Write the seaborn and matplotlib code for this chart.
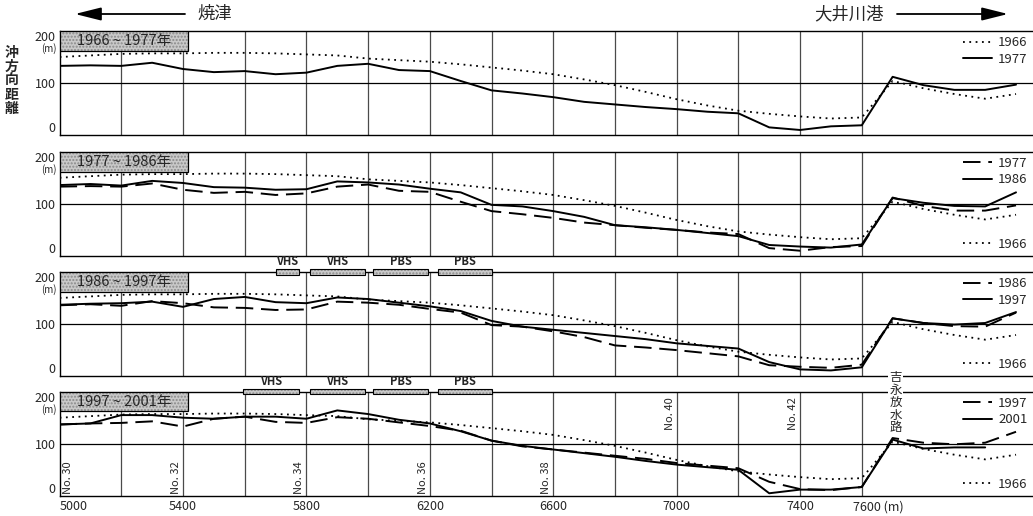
import numpy as np
import pandas as pd
import matplotlib
matplotlib.use('Agg')
import matplotlib.pyplot as plt
import matplotlib.transforms as mtransforms
from matplotlib.patches import Rectangle
import seaborn as sns

# alongshore distance of survey lines (m)
dist = [5000, 5100, 5200, 5300, 5400, 5500, 5600, 5700, 5800, 5900,
        6000, 6100, 6200, 6300, 6400, 6500, 6600, 6700, 6800, 6900,
        7000, 7100, 7200, 7300, 7400, 7500, 7600, 7700, 7800, 7900,
        8000, 8100]

# offshore distance of shoreline (m)
y1966 = [150, 153, 156, 157, 157, 158, 158, 157, 155, 153,
         147, 144, 141, 136, 130, 124, 117, 107, 96, 83,
         69, 57, 47, 41, 36, 32, 34, 104, 90, 79,
         70, 79]
y1977 = [133, 134, 133, 139, 127, 121, 123, 117, 120, 133,
         137, 125, 123, 104, 86, 80, 73, 64, 59, 54,
         50, 45, 42, 15, 10, 17, 19, 112, 96, 87,
         87, 97]
y1986 = [136, 138, 135, 144, 140, 132, 131, 127, 128, 143,
         141, 137, 129, 122, 98, 95, 86, 75, 59, 55,
         50, 44, 38, 21, 18, 16, 22, 111, 102, 96,
         95, 122]
y1997 = [137, 139, 140, 143, 133, 148, 152, 142, 140, 151,
         148, 141, 134, 125, 106, 95, 89, 83, 77, 71,
         63, 58, 53, 27, 13, 11, 17, 111, 102, 99,
         102, 123]
y2001 = [137, 139, 155, 155, 150, 148, 152, 152, 148, 164,
         157, 146, 139, 124, 106, 96, 89, 82, 75, 67,
         60, 55, 50, 5, 12, 12, 17, 108, 91, 93,
         93, np.nan]

panel_titles = ['1966 ~ 1977年', '1977 ~ 1986年', '1986 ~ 1997年', '1997 ~ 2001年']
panel_pairs = [('1966', '1977'), ('1977', '1986'), ('1986', '1997'), ('1997', '2001')]

xtick_pos = [5000, 5200, 5400, 5600, 5800, 6000, 6200, 6400, 6600, 6800,
             7000, 7200, 7400, 7600]
xtick_labels = ['5000', '', '5400', '', '5800', '', '6200', '', '6600', '',
                '7000', '', '7400', '7600 (m)']
ytick_pos = [0, 100, 200]
ytick_labels = ['0', '100', '200']

station_names = ['No. 30', 'No. 32', 'No. 34', 'No. 36', 'No. 38', 'No. 40', 'No. 42']
station_x = [5000, 5400, 5800, 6200, 6600, 7000, 7400]

# coastal structures (VHS / PBS) shown above panels 3 and 4
struct_names = ['VHS', 'VHS', 'PBS', 'PBS']
struct_start_1997 = [5700, 5810, 6015, 6225]
struct_start_2001 = [5595, 5810, 6015, 6225]
struct_end = [5775, 5990, 6195, 6400]

channel_name = '吉永放水路'
channel_x = 7710

df = pd.DataFrame({'dist': dist, '1966': y1966, '1977': y1977,
                   '1986': y1986, '1997': y1997, '2001': y2001})

sns.set_style('white')
plt.rcParams['font.family'] = ['Noto Sans CJK JP', 'DejaVu Sans']

dotted = (0, (1, 2.5))
dashed = (0, (9, 4))

fig = plt.figure(figsize=(10.33, 5.16), dpi=100)
left = 59.6 / 1033
width = 1 - left
height = 0.202
bottoms = [0.738, 0.504, 0.271, 0.039]

axes = []
for i, (title, (old, new)) in enumerate(zip(panel_titles, panel_pairs)):
    ax = fig.add_axes([left, bottoms[i], width, height])
    axes.append(ax)

    sns.lineplot(data=df, x='dist', y='1966', ax=ax, color='black', lw=1.3,
                 linestyle=dotted, label='1966')
    h66 = ax.lines[-1]
    if old != '1966':
        sns.lineplot(data=df, x='dist', y=old, ax=ax, color='black', lw=1.4,
                     linestyle=dashed, label=old)
        hold = ax.lines[-1]
    sns.lineplot(data=df, x='dist', y=new, ax=ax, color='black', lw=1.4,
                 linestyle='-', label=new)
    hnew = ax.lines[-1]

    ax.set_xlim(5000, 8155)
    ax.set_ylim(0, 200)
    ax.set_xlabel('')
    ax.set_ylabel('')
    ax.set_xticks(xtick_pos)
    ax.set_yticks(ytick_pos, ytick_labels)
    ax.tick_params(length=0, labelsize=9, pad=3)
    ax.grid(False)
    for x in xtick_pos[1:]:
        ax.axvline(x, color='#4a4a4a', lw=0.9, zorder=1)
    ax.axhline(100, color='black', lw=0.9, zorder=1)
    for s in ['top', 'bottom', 'left']:
        ax.spines[s].set_color('black')
        ax.spines[s].set_linewidth(1.0)
    ax.spines['right'].set_visible(False)

    ylabs = ax.get_yticklabels()
    ylabs[0].set_va('bottom')
    ylabs[2].set_va('top')
    ax.annotate('(m)', xy=(0, 1), xycoords='axes fraction', xytext=(-3, -18),
                textcoords='offset pixels', ha='right', va='center', fontsize=7)

    if i == 3:
        ax.set_xticklabels(xtick_labels)
        xl = ax.get_xticklabels()
        xl[0].set_ha('left')
        xl[-1].set_ha('left')
        xl[-1].set_transform(xl[-1].get_transform() +
                             mtransforms.ScaledTranslation(-9 / 100, 0, fig.dpi_scale_trans))
    else:
        ax.set_xticklabels([])

    # legend
    if i == 0:
        ax.legend([h66, hnew], ['1966', new], loc='upper right', frameon=False,
                  fontsize=9.5, handlelength=2.2, handletextpad=0.5,
                  labelspacing=0.25, borderaxespad=0.1, borderpad=0.3)
    else:
        leg = ax.legend([hold, hnew], [old, new], loc='upper right', frameon=False,
                        fontsize=9.5, handlelength=2.2, handletextpad=0.5,
                        labelspacing=0.25, borderaxespad=0.1, borderpad=0.3)
        ax.add_artist(leg)
        ax.legend([h66], ['1966'], loc='lower right', frameon=False,
                  fontsize=9.5, handlelength=2.2, handletextpad=0.5,
                  borderaxespad=0.1, borderpad=0.3)

    # period title box
    ax.add_patch(Rectangle((0, 0.81), 0.132, 0.19, transform=ax.transAxes,
                           facecolor='#c9c9c9', edgecolor='#8a8a8a', hatch='.....',
                           lw=0, zorder=4))
    ax.add_patch(Rectangle((0, 0.81), 0.132, 0.19, transform=ax.transAxes,
                           fill=False, edgecolor='black', lw=0.9, zorder=4))
    ax.text(0.066, 0.905, title, transform=ax.transAxes, ha='center', va='center',
            fontsize=10.5, zorder=5)

# structures above panels 3 and 4
for ax, starts in [(axes[2], struct_start_1997), (axes[3], struct_start_2001)]:
    trans = mtransforms.blended_transform_factory(ax.transData, ax.transAxes)
    for name, x0, x1 in zip(struct_names, starts, struct_end):
        ax.add_patch(Rectangle((x0, 0.975), x1 - x0, 0.05, transform=trans,
                               facecolor='#c9c9c9', edgecolor='#8a8a8a', hatch='.....',
                               lw=0, clip_on=False, zorder=6))
        ax.add_patch(Rectangle((x0, 0.975), x1 - x0, 0.05, transform=trans,
                               fill=False, edgecolor='black', lw=0.8,
                               clip_on=False, zorder=6))
        ax.text((x0 + x1) / 2, 1.035, name, transform=trans, ha='center', va='bottom',
                fontsize=8, fontweight='bold', clip_on=False, zorder=6)

# survey line numbers in the bottom panel
ax4 = axes[3]
for name, xs in zip(station_names, station_x):
    upper = xs >= 7000
    ha = 'left' if xs == dist[0] else 'right'
    dx = 3 if xs == dist[0] else -2
    ax4.annotate(name, xy=(xs, 190 if upper else 4), xytext=(dx, 0),
                 textcoords='offset pixels', rotation=90, ha=ha,
                 va='top' if upper else 'bottom', fontsize=8, zorder=5)

ax4.text(channel_x, 179, '\n'.join(channel_name), ha='center', va='center',
         fontsize=9, linespacing=0.95, clip_on=False, zorder=10,
         bbox=dict(facecolor='white', edgecolor='none', pad=1))

# header arrows
yh = 1 - 14 / 516
arrow = dict(arrowstyle='-|>,head_length=0.8,head_width=0.2', mutation_scale=20,
             lw=1.3, color='black', shrinkA=0, shrinkB=0)
axes[0].annotate('', xy=(75 / 1033, yh), xycoords='figure fraction',
                 xytext=(185 / 1033, yh), textcoords='figure fraction',
                 arrowprops=arrow, annotation_clip=False)
axes[0].annotate('', xy=(1008 / 1033, yh), xycoords='figure fraction',
                 xytext=(897 / 1033, yh), textcoords='figure fraction',
                 arrowprops=arrow, annotation_clip=False)
fig.text(215 / 1033, yh, '焼津', ha='center', va='center', fontsize=12.5)
fig.text(849 / 1033, yh, '大井川港', ha='center', va='center', fontsize=12.5)

fig.text(12 / 1033, 1 - 81 / 516, '\n'.join('沖方向距離'), ha='center', va='center',
         fontsize=10, fontweight='bold', linespacing=1.0)

fig.savefig('out.png', dpi=100)
plt.close(fig)
